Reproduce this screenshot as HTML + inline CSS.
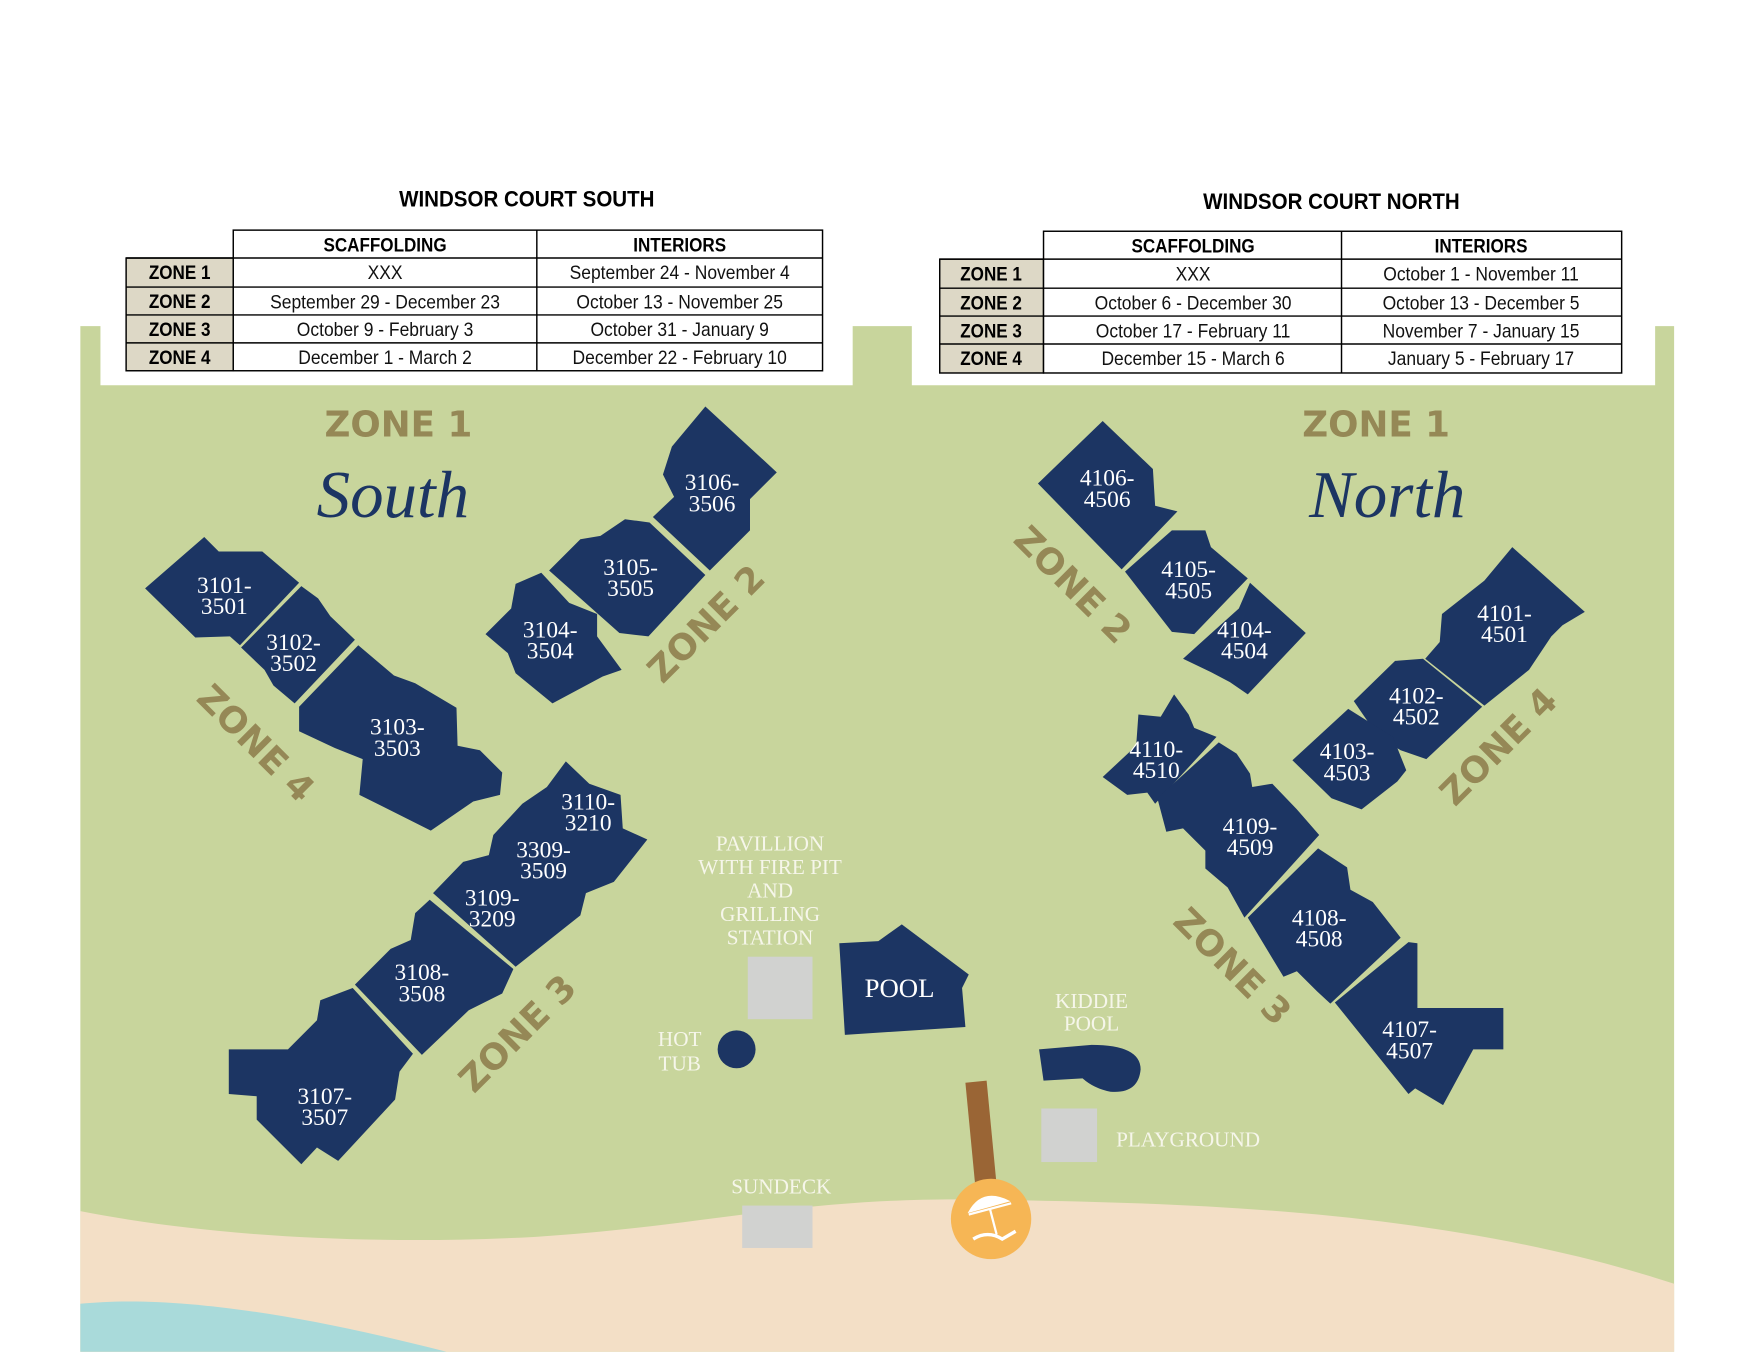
<!DOCTYPE html>
<html><head><meta charset="utf-8"><style>
html,body{margin:0;padding:0;background:#fff;}
svg{display:block;}
.tb{font-family:"Liberation Sans",sans-serif;font-weight:bold;font-size:20px;fill:#000;}
.hd{font-family:"Liberation Sans",sans-serif;font-weight:bold;font-size:17px;fill:#000;}
.cl{font-family:"Liberation Sans",sans-serif;font-size:17px;fill:#111;}
.zn{font-family:"DejaVu Sans","Liberation Sans",sans-serif;font-weight:bold;font-size:32px;fill:#958856;}
.ti{font-family:"Liberation Serif",serif;font-style:italic;font-size:60px;fill:#1c3563;}
.bl{font-family:"Liberation Serif",serif;font-size:21px;fill:#fff;}
.am{font-family:"Liberation Serif",serif;font-size:19px;fill:#f6f6ea;}
</style></head><body>
<svg width="1750" height="1352" viewBox="0 0 1568 1211" xmlns="http://www.w3.org/2000/svg">
<rect width="1568" height="1211" fill="#fff"/>
<path d="M72 292H90V345H764V292H817V345H1483V292H1500V1211H72Z" fill="#c8d59c"/>
<path d="M72 1085 C200 1110 350 1115 480 1108 C640 1098 720 1070 900 1075 C1080 1078 1300 1085 1500 1150 V1211 H72Z" fill="#f3dfc6"/>
<path d="M72 1168 C150 1160 260 1175 400 1211 H72Z" fill="#a9dada"/>

<text class="tb" x="472" y="185" text-anchor="middle" transform="translate(472,0) scale(0.92,1) translate(-472,0)">WINDSOR COURT SOUTH</text>
<g stroke="#000" stroke-width="1.3">
<rect x="113" y="231" width="96" height="101" fill="#ddd8c6"/>
<rect x="209" y="206" width="528" height="126" fill="#fff"/>
<line x1="481" y1="206" x2="481" y2="332"/>
<line x1="113" y1="231" x2="737" y2="231"/>
<line x1="113" y1="257" x2="737" y2="257"/>
<line x1="113" y1="282" x2="737" y2="282"/>
<line x1="113" y1="307" x2="737" y2="307"/>
</g>
<g text-anchor="middle">
<g transform="translate(345,0) scale(0.9,1) translate(-345,0)"><text class="hd" x="345" y="225">SCAFFOLDING</text></g>
<g transform="translate(609,0) scale(0.9,1) translate(-609,0)"><text class="hd" x="609" y="225">INTERIORS</text></g>
<g transform="translate(161,0) scale(0.9,1) translate(-161,0)"><text class="hd" x="161" y="250">ZONE 1</text><text class="hd" x="161" y="276">ZONE 2</text><text class="hd" x="161" y="301">ZONE 3</text><text class="hd" x="161" y="326">ZONE 4</text></g>
<g transform="translate(345,0) scale(0.92,1) translate(-345,0)">
<text class="cl" x="345" y="250">XXX</text>
<text class="cl" x="345" y="276">September 29 - December 23</text>
<text class="cl" x="345" y="301">October 9 - February 3</text>
<text class="cl" x="345" y="326">December 1 - March 2</text></g>
<g transform="translate(609,0) scale(0.92,1) translate(-609,0)">
<text class="cl" x="609" y="250">September 24 - November 4</text>
<text class="cl" x="609" y="276">October 13 - November 25</text>
<text class="cl" x="609" y="301">October 31 - January 9</text>
<text class="cl" x="609" y="326">December 22 - February 10</text></g>
</g>

<text class="tb" x="1193" y="187" text-anchor="middle" transform="translate(1193,0) scale(0.92,1) translate(-1193,0)">WINDSOR COURT NORTH</text>
<g stroke="#000" stroke-width="1.3">
<rect x="842" y="232" width="93" height="102" fill="#ddd8c6"/>
<rect x="935" y="207" width="518" height="127" fill="#fff"/>
<line x1="1202" y1="207" x2="1202" y2="334"/>
<line x1="842" y1="232" x2="1453" y2="232"/>
<line x1="842" y1="258" x2="1453" y2="258"/>
<line x1="842" y1="283" x2="1453" y2="283"/>
<line x1="842" y1="308" x2="1453" y2="308"/>
</g>
<g text-anchor="middle">
<g transform="translate(1069,0) scale(0.9,1) translate(-1069,0)"><text class="hd" x="1069" y="226">SCAFFOLDING</text></g>
<g transform="translate(1327,0) scale(0.9,1) translate(-1327,0)"><text class="hd" x="1327" y="226">INTERIORS</text></g>
<g transform="translate(888,0) scale(0.9,1) translate(-888,0)"><text class="hd" x="888" y="251">ZONE 1</text><text class="hd" x="888" y="277">ZONE 2</text><text class="hd" x="888" y="302">ZONE 3</text><text class="hd" x="888" y="327">ZONE 4</text></g>
<g transform="translate(1069,0) scale(0.92,1) translate(-1069,0)">
<text class="cl" x="1069" y="251">XXX</text>
<text class="cl" x="1069" y="277">October 6 - December 30</text>
<text class="cl" x="1069" y="302">October 17 - February 11</text>
<text class="cl" x="1069" y="327">December 15 - March 6</text></g>
<g transform="translate(1327,0) scale(0.92,1) translate(-1327,0)">
<text class="cl" x="1327" y="251">October 1 - November 11</text>
<text class="cl" x="1327" y="277">October 13 - December 5</text>
<text class="cl" x="1327" y="302">November 7 - January 15</text>
<text class="cl" x="1327" y="327">January 5 - February 17</text></g>
</g>

<text class="zn" x="357" y="391" text-anchor="middle">ZONE 1</text>
<text class="ti" x="352" y="463" text-anchor="middle">South</text>
<text class="zn" x="1233" y="391" text-anchor="middle">ZONE 1</text>
<text class="ti" x="1243" y="463" text-anchor="middle">North</text>

<text class="zn" transform="translate(230,665) rotate(45)" text-anchor="middle" dy="12">ZONE 4</text>
<text class="zn" transform="translate(632,558) rotate(-45)" text-anchor="middle" dy="12">ZONE 2</text>
<text class="zn" transform="translate(463,925) rotate(-45)" text-anchor="middle" dy="12">ZONE 3</text>
<text class="zn" transform="translate(962,523) rotate(45)" text-anchor="middle" dy="12">ZONE 2</text>
<text class="zn" transform="translate(1342,668) rotate(-45)" text-anchor="middle" dy="12">ZONE 4</text>
<text class="zn" transform="translate(1105,865) rotate(45)" text-anchor="middle" dy="12">ZONE 3</text>

<g fill="#1c3563">
<polygon points="130,527 183,481 196,494 235,494 268,522 215,578 206,570 175,571"/>
<polygon points="216,580 270,525 285,536 296,552 318,573 264,630 245,614 237,600"/>
<polygon points="268,633 321,578 353,605 372,612 409,634 410,668 430,672 450,692 448,712 424,718 386,744 322,712 325,680 300,670 268,655"/>
<polygon points="435,568 458,545 462,523 485,513 510,540 535,550 535,570 557,600 540,606 495,630 462,603 455,585"/>
<polygon points="492,511 520,483 538,480 560,465 582,468 632,515 581,570 555,567"/>
<polygon points="585,463 604,445 594,425 602,400 632,364 696,423 672,447 672,475 636,511"/>
<polygon points="388,800 415,772 438,766 442,748 468,720 490,705 507,682 528,702 556,712 558,742 580,752 550,790 525,800 520,820 462,866"/>
<polygon points="318,882 350,850 368,842 372,818 385,806 460,868 450,890 420,905 378,945"/>
<polygon points="205,940 258,940 284,914 287,896 316,885 370,944 358,960 354,985 303,1040 284,1028 270,1043 230,1003 230,982 205,980"/>
<polygon points="930,433 988,377 1033,420 1035,453 1055,458 1005,510"/>
<polygon points="1008,512 1050,475 1080,475 1085,490 1118,518 1070,568 1050,566"/>
<polygon points="1060,590 1110,545 1120,522 1170,567 1118,622 1102,611 1085,602"/>
<polygon points="988,696 1018,668 1020,640 1040,642 1052,622 1065,640 1070,652 1090,660 1035,720 1028,710 1010,712"/>
<polygon points="1037,715 1092,665 1108,675 1120,693 1122,705 1140,702 1162,725 1182,748 1115,822 1100,795 1080,778 1080,762 1060,742 1045,745"/>
<polygon points="1118,822 1181,760 1207,777 1210,797 1230,808 1255,840 1192,899 1180,888 1162,870 1150,875"/>
<polygon points="1196,898 1262,844 1270,845 1270,903 1347,903 1347,940 1320,940 1293,990 1268,975 1262,980"/>
<polygon points="1213,628 1250,592 1275,590 1328,633 1278,680 1255,672 1235,660"/>
<polygon points="1158,681 1208,635 1248,660 1260,690 1252,700 1220,725 1193,715"/>
<polygon points="1277,590 1290,575 1292,550 1330,520 1355,490 1420,548 1400,560 1390,570 1370,600 1330,632"/>
<polygon points="752,845 787,843 808,828 868,873 862,885 865,920 757,927"/>
<circle cx="660" cy="940" r="17"/>
<path d="M931 940 L978 936 Q1022 936 1022 958 Q1020 980 995 978 Q980 975 970 966 L935 968Z"/>
</g>

<g class="bl" text-anchor="middle">
<text x="201" y="531">3101-</text><text x="201" y="550">3501</text>
<text x="263" y="582">3102-</text><text x="263" y="601">3502</text>
<text x="356" y="658">3103-</text><text x="356" y="677">3503</text>
<text x="493" y="571">3104-</text><text x="493" y="590">3504</text>
<text x="565" y="515">3105-</text><text x="565" y="534">3505</text>
<text x="638" y="439">3106-</text><text x="638" y="458">3506</text>
<text x="527" y="725">3110-</text><text x="527" y="744">3210</text>
<text x="487" y="768">3309-</text><text x="487" y="787">3509</text>
<text x="441" y="811">3109-</text><text x="441" y="830">3209</text>
<text x="378" y="878">3108-</text><text x="378" y="897">3508</text>
<text x="291" y="989">3107-</text><text x="291" y="1008">3507</text>
<text x="992" y="435">4106-</text><text x="992" y="454">4506</text>
<text x="1065" y="517">4105-</text><text x="1065" y="536">4505</text>
<text x="1115" y="571">4104-</text><text x="1115" y="590">4504</text>
<text x="1036" y="678">4110-</text><text x="1036" y="697">4510</text>
<text x="1120" y="747">4109-</text><text x="1120" y="766">4509</text>
<text x="1182" y="829">4108-</text><text x="1182" y="848">4508</text>
<text x="1263" y="929">4107-</text><text x="1263" y="948">4507</text>
<text x="1269" y="630">4102-</text><text x="1269" y="649">4502</text>
<text x="1207" y="680">4103-</text><text x="1207" y="699">4503</text>
<text x="1348" y="556">4101-</text><text x="1348" y="575">4501</text>
<text x="806" y="893" style="font-size:24px">POOL</text>
</g>

<g class="am" text-anchor="middle">
<text x="690" y="762">PAVILLION</text>
<text x="690" y="783">WITH FIRE PIT</text>
<text x="690" y="804">AND</text>
<text x="690" y="825">GRILLING</text>
<text x="690" y="846">STATION</text>
<text x="609" y="937">HOT</text>
<text x="609" y="959">TUB</text>
<text x="978" y="903">KIDDIE</text>
<text x="978" y="923">POOL</text>
<text x="700" y="1069">SUNDECK</text>
</g>
<text class="am" x="1000" y="1027">PLAYGROUND</text>
<rect x="670" y="857" width="58" height="56" fill="#d1d2d0"/>
<rect x="933" y="993" width="50" height="48" fill="#d1d2d0"/>
<rect x="665" y="1080" width="63" height="38" fill="#d1d2d0"/>
<polygon points="865,970 884,968 893,1062 874,1064" fill="#9a6535"/>
<circle cx="888" cy="1092" r="36" fill="#f6b655"/>
<g fill="#fff" stroke="#fff">
<path d="M868 1086 Q880 1064 904 1076 Z" stroke-width="1"/>
<line x1="868" y1="1088" x2="906" y2="1078" stroke-width="2"/>
<line x1="887" y1="1083" x2="893" y2="1106" stroke-width="2"/>
<path d="M872 1110 Q885 1102 898 1110 L910 1103" fill="none" stroke-width="3"/>
</g>
</svg>
</body></html>
